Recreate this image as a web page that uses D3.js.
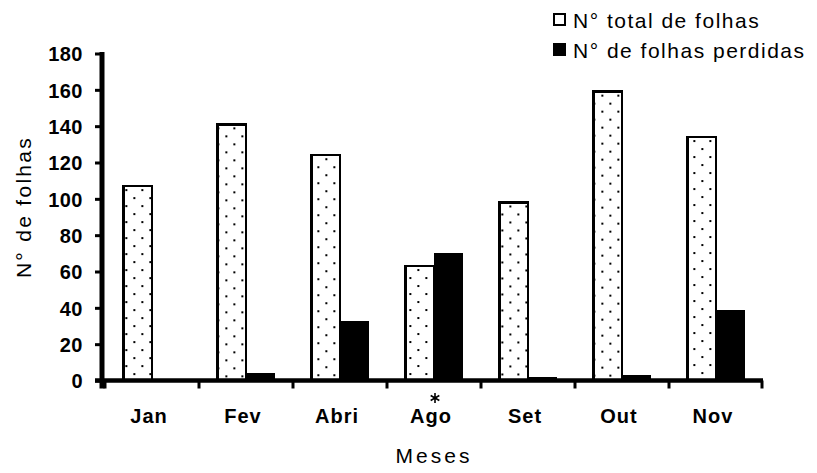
<!DOCTYPE html>
<html>
<head>
<meta charset="utf-8">
<script src="https://cdn.jsdelivr.net/npm/d3@7"></script>
<style>
  html, body { margin: 0; padding: 0; background: #fff; }
  svg { display: block; }
  text { font-family: "Liberation Sans", Arial, sans-serif; fill: #000; }
</style>
</head>
<body>
<svg id="chart" width="817" height="473"></svg>
<script>
// Leaf counts per month
const months = ["Jan", "Fev", "Abri", "Ago", "Set", "Out", "Nov"];
const totalLeaves = [107, 141, 124, 63, 98, 159, 134];
const lostLeaves = [0, 4, 33, 70, 2, 3, 39];
const yTicks = [0, 20, 40, 60, 80, 100, 120, 140, 160, 180];
const seriesKeys = ["total", "perdidas"];
const seriesLabels = ["N° total de folhas", "N° de folhas perdidas"];
const markedMonth = "Ago";

const svg = d3.select("#chart");
const W = 817, H = 473;
const margin = { left: 105, right: 54, top: 53.5, bottom: 92.5 };
const plotRight = W - margin.right;
const plotBottom = H - margin.bottom;

const x0 = d3.scaleBand()
  .domain(months)
  .range([margin.left, plotRight])
  .paddingInner(0.39)
  .paddingOuter(0.195);

const x1 = d3.scaleBand()
  .domain(seriesKeys)
  .range([0, x0.bandwidth()]);

const y = d3.scaleLinear()
  .domain([0, 180])
  .range([plotBottom, margin.top]);

const rows = months.map((m, i) => ({ month: m, total: totalLeaves[i], perdidas: lostLeaves[i] }));

// Dotted fill, one pattern per bar so the dots line up with each bar's left edge
const defs = svg.append("defs");
rows.forEach((d, i) => {
  const px = x0(d.month) + x1("total");
  const p = defs.append("pattern")
    .attr("id", "dots-" + i)
    .attr("patternUnits", "userSpaceOnUse")
    .attr("x", px - 1.3)
    .attr("y", y(d.total) + 3)
    .attr("width", 16)
    .attr("height", 16);
  p.append("rect").attr("width", 16).attr("height", 16).attr("fill", "#fff");
  p.append("rect").attr("x", 8).attr("y", 0).attr("width", 2).attr("height", 2).attr("fill", "#000");
  p.append("rect").attr("x", 0).attr("y", 8).attr("width", 2).attr("height", 2).attr("fill", "#000");
  p.append("rect").attr("x", 16).attr("y", 8).attr("width", 2).attr("height", 2).attr("fill", "#000");
});

// Bars
const groups = svg.append("g")
  .selectAll("g")
  .data(rows)
  .join("g")
  .attr("transform", d => `translate(${x0(d.month)},0)`);

groups.append("rect")
  .attr("x", x1("total"))
  .attr("y", d => y(d.total))
  .attr("width", x1.bandwidth())
  .attr("height", d => y(0) - y(d.total))
  .attr("fill", (d, i) => `url(#dots-${i})`)
  .attr("stroke", "#000")
  .attr("stroke-width", 2.5)
  .attr("shape-rendering", "crispEdges");

groups.append("rect")
  .attr("x", x1("perdidas"))
  .attr("y", d => y(d.perdidas))
  .attr("width", x1.bandwidth())
  .attr("height", d => y(0) - y(d.perdidas))
  .attr("fill", "#000")
  .attr("shape-rendering", "crispEdges");

// Y axis
const yAxis = svg.append("g")
  .attr("transform", `translate(${margin.left - 3},0)`)
  .call(d3.axisLeft(y).tickValues(yTicks).tickSize(7).tickPadding(12));
yAxis.select(".domain")
  .attr("d", `M0,${margin.top - 1.5}V${plotBottom + 8}`)
  .attr("stroke", "#000")
  .attr("stroke-width", 5);
yAxis.selectAll(".tick line").attr("stroke", "#000").attr("stroke-width", 3);
yAxis.selectAll(".tick text")
  .attr("font-size", 20)
  .attr("font-weight", "bold")
  .attr("letter-spacing", 0.5)
  .attr("dy", "0.36em");

// X axis: baseline plus boundary ticks between months
const xAxisG = svg.append("g");
xAxisG.append("line")
  .attr("x1", margin.left - 10)
  .attr("x2", plotRight)
  .attr("y1", plotBottom)
  .attr("y2", plotBottom)
  .attr("stroke", "#000")
  .attr("stroke-width", 4.5);

const boundaries = months.map(m => x0(m) - x0.step() * x0.paddingOuter());
boundaries.push(plotRight - 1);
xAxisG.selectAll(".xb")
  .data(boundaries)
  .join("line")
  .attr("class", "xb")
  .attr("x1", d => d)
  .attr("x2", d => d)
  .attr("y1", plotBottom)
  .attr("y2", plotBottom + 8)
  .attr("stroke", "#000")
  .attr("stroke-width", 3);

xAxisG.selectAll(".xl")
  .data(months)
  .join("text")
  .attr("class", "xl")
  .attr("x", d => x0(d) + x0.bandwidth() / 2 - 3)
  .attr("y", plotBottom + 42)
  .attr("text-anchor", "middle")
  .attr("font-size", 20)
  .attr("font-weight", "bold")
  .attr("letter-spacing", 1)
  .text(d => d);

// Asterisk marker above the marked month
svg.append("path")
  .attr("transform", `translate(${x0(markedMonth) + x0.bandwidth() / 2 + 1},${plotBottom + 17.5})`)
  .attr("d", d3.symbol(d3.symbolAsterisk, 70)())
  .attr("fill", "none")
  .attr("stroke", "#000")
  .attr("stroke-width", 1.6);

// Axis titles
svg.append("text")
  .attr("x", x0("Ago") + x0.bandwidth() / 2)
  .attr("y", 463)
  .attr("text-anchor", "middle")
  .attr("font-size", 21)
  .attr("letter-spacing", 3)
  .text("Meses");

svg.append("text")
  .attr("transform", `translate(31,${207}) rotate(-90)`)
  .attr("text-anchor", "middle")
  .attr("font-size", 21)
  .attr("letter-spacing", 2.3)
  .text("N° de folhas");

// Legend
const legend = svg.append("g").attr("transform", "translate(553,0)");
const legendRows = legend.selectAll("g")
  .data(seriesKeys)
  .join("g")
  .attr("transform", (d, i) => `translate(0,${13 + i * 30})`);

legendRows.append("rect")
  .attr("x", 1)
  .attr("y", 1)
  .attr("width", 11)
  .attr("height", 11)
  .attr("fill", d => d === "total" ? "#fff" : "#000")
  .attr("stroke", "#000")
  .attr("stroke-width", 1.5)
  .attr("shape-rendering", "crispEdges");

legendRows.append("text")
  .attr("x", 20)
  .attr("y", 15)
  .attr("font-size", 21)
  .attr("letter-spacing", 1.5)
  .text((d, i) => seriesLabels[i]);
</script>
</body>
</html>
